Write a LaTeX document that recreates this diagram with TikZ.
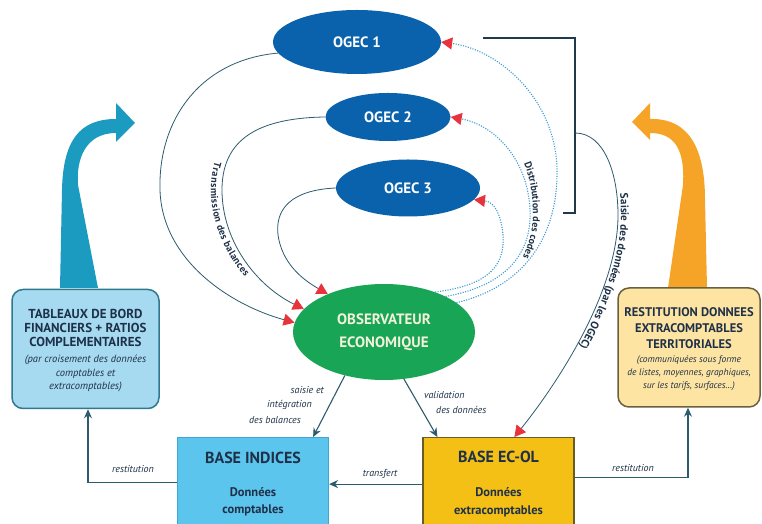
\documentclass[tikz,border=0pt]{standalone}
\usepackage{fontspec}
\setmainfont{PT Sans}
\usetikzlibrary{arrows.meta,decorations.text,shapes.geometric}
\definecolor{ogecblue}{HTML}{0A62AC}
\definecolor{obsgreen}{HTML}{18A555}
\definecolor{obstext}{HTML}{F4F2DC}
\definecolor{navy}{HTML}{1E3148}
\definecolor{indfill}{HTML}{5CC5EE}
\definecolor{inddraw}{HTML}{3FA6D2}
\definecolor{ecfill}{HTML}{F5C015}
\definecolor{ecdraw}{HTML}{6A5A28}
\definecolor{tabfill}{HTML}{A6DAF1}
\definecolor{tabdraw}{HTML}{2F7890}
\definecolor{resfill}{HTML}{FDE4A2}
\definecolor{resdraw}{HTML}{6A6040}
\definecolor{tealarrow}{HTML}{1C9BC0}
\definecolor{orangearrow}{HTML}{F5A428}
\definecolor{linedark}{HTML}{2D5B6E}
\definecolor{dotblue}{HTML}{3D9BD3}
\definecolor{arrowred}{HTML}{E8333D}
\definecolor{brackcol}{HTML}{1F3A48}
\begin{document}
\begin{tikzpicture}[x=1pt,y=1pt,
  every node/.style={text=navy},
  ogec/.style={ellipse, fill=ogecblue, text=white, font=\fontsize{15}{18}\selectfont\bfseries, inner sep=0pt},
  basebox/.style={rectangle, line width=1.2pt, minimum width=151pt, minimum height=93pt, anchor=north, inner sep=0pt},
  sidebox/.style={rectangle, rounded corners=11pt, line width=1.5pt, minimum height=119pt, inner sep=0pt},
  boxtext/.style={inner sep=0pt},
  conn/.style={draw=linedark, line width=1.1pt, -{Stealth[length=9pt,width=8pt]}},
  balance/.style={draw=linedark, line width=0.8pt, -{Triangle[length=11pt,width=12pt,color=arrowred]}},
  codeline/.style={draw=dotblue, line width=1.1pt, dash pattern=on 1.1pt off 1.4pt, -{Triangle[length=11pt,width=12pt,color=arrowred]}},
  lbl/.style={font=\fontsize{10}{12}\selectfont\itshape, inner sep=1pt},
  bracket/.style={draw=brackcol, line width=1.5pt}
]
\useasboundingbox (0,0) rectangle (762,524);
\clip (0,0) rectangle (762,524);
\fill[white] (0,0) rectangle (762,524);

% big decorative arrows
\fill[tealarrow] (60,236) -- (62,334) .. controls (63,384) and (80,405) .. (116,405) -- (116,421) -- (135,401) -- (116,382) -- (116,391) .. controls (85,391) and (76,364) .. (78,339) -- (98,236) -- cycle;
\fill[orangearrow] (668,236) -- (683,339) .. controls (685,374) and (675,391) .. (650,391) -- (650,384) -- (632,402) -- (650,421) -- (650,405) .. controls (690,406) and (705,374) .. (705,324) -- (707,236) -- cycle;

% nodes
\node[ogec, minimum width=168pt, minimum height=64pt] (ogec1) at (357,482) {OGEC 1};
\node[ogec, minimum width=125pt, minimum height=48pt] (ogec2) at (388,407) {OGEC 2};
\node[ogec, minimum width=144pt, minimum height=57pt] (ogec3) at (408,336) {OGEC 3};
\node[ellipse, fill=obsgreen, text=obstext, minimum width=182pt, minimum height=96pt, inner sep=0pt, align=center, font=\fontsize{15}{23}\selectfont\bfseries] (obs) at (384,192) {OBSERVATEUR\\ECONOMIQUE};

\node[basebox, draw=inddraw, fill=indfill] (baseind) at (253,87) {};
\node[boxtext] (baseindtxt) at (253,40) {\begin{minipage}{170pt}\centering\bfseries
\fontsize{16}{18}\selectfont BASE INDICES\par\vspace{16pt}
\fontsize{12.5}{17}\selectfont Données\par comptables\par\end{minipage}};
\node[basebox, draw=ecdraw, fill=ecfill] (baseec) at (498.5,87) {};
\node[boxtext] (baseectxt) at (498.5,40) {\begin{minipage}{170pt}\centering\bfseries
\fontsize{16}{18}\selectfont BASE EC-OL\par\vspace{16pt}
\fontsize{12.5}{18}\selectfont Données\par extracomptables\par\end{minipage}};

\node[sidebox, draw=tabdraw, fill=tabfill, minimum width=147pt] (tab) at (85.5,175) {};
\node[boxtext] (tabtxt) at (85.5,173) {\begin{minipage}{170pt}\centering
\fontsize{13}{14}\selectfont\bfseries TABLEAUX DE BORD\par FINANCIERS + RATIOS\par COMPLEMENTAIRES\par\vspace{2.5pt}
\fontsize{10.5}{13.5}\selectfont\mdseries\itshape (par croisement des données\par comptables et\par extracomptables)\par\end{minipage}};
\node[sidebox, draw=resdraw, fill=resfill, minimum width=142pt] (restit) at (689,176.5) {};
\node[boxtext] (restittxt) at (689,175) {\begin{minipage}{170pt}\centering
\fontsize{12.5}{16}\selectfont\bfseries RESTITUTION DONNEES\par EXTRACOMPTABLES\par TERRITORIALES\par\vspace{1pt}
\fontsize{9.5}{13}\selectfont\mdseries\itshape (communiquées sous forme\par de listes, moyennes, graphiques,\par sur les tarifs, surfaces…)\par\end{minipage}};

% bracket
\draw[bracket] (483,486) -- (575,486) -- (575,311) -- (563,311);
\coordinate (brk) at (575,391);

% transmission des balances
\draw[balance] (ogec1.188) .. controls (200,464) and (158,404) .. (160,334) .. controls (162,264) and (230,219) .. (obs.174);
\draw[balance] (ogec2.west) .. controls (250,406) and (222,379) .. (222,334) .. controls (222,284) and (255,239) .. (obs.164);
\draw[balance] (ogec3.west) .. controls (290,334) and (275,314) .. (278,289) .. controls (282,262) and (300,246) .. (obs.146);
\path[decorate, decoration={text along path, text color=navy, text align=center, raise=-11pt,
  text={|\fontsize{10}{12}\selectfont\bfseries|Transmission des balances}}]
  (235,378) .. controls (225,364) and (222,349) .. (222,334) .. controls (222,299) and (240,264) .. (268,239);

% distribution des codes
\draw[codeline] (obs.22) .. controls (530,239) and (558,294) .. (557,354) .. controls (556,424) and (500,474) .. (ogec1.east);
\draw[codeline] (obs.30) .. controls (510,239) and (532,274) .. (530,314) .. controls (528,364) and (495,399) .. (ogec2.east);
\draw[codeline] (obs.38) .. controls (490,239) and (505,259) .. (503,289) .. controls (501,309) and (495,322) .. (ogec3.-10);
\path[decorate, decoration={text along path, text color=navy, text align=center, raise=2pt,
  text={|\fontsize{10}{12}\selectfont\bfseries|Distribution des codes}}]
  (490,396) .. controls (515,384) and (530,354) .. (531,314) .. controls (532,279) and (515,249) .. (490,229);

% saisie des donnees par les OGEC
\draw[balance] (brk) .. controls (605,391) and (618,349) .. (618,309) .. controls (618,234) and (560,144) .. ([xshift=92pt]baseec.north west);
\path[decorate, decoration={text along path, text color=navy, text align=left, raise=3pt,
  text={|\fontsize{11}{13}\selectfont\bfseries|Saisie des données (par les OGEC)}}]
  (617,330) .. controls (618,322) and (618,315) .. (618,309) .. controls (618,234) and (560,144) .. (515,87);

% straight connectors
\draw[conn] (obs.228) -- ([xshift=-16pt]baseind.north east);
\draw[conn] (obs.293) -- ([xshift=15pt]baseec.north west);
\draw[conn] (baseec.west) -- (baseind.east);
\draw[conn] ([yshift=1.5pt]baseind.west) -| ([xshift=2.5pt]tab.south);
\draw[conn] ([yshift=6.5pt]baseec.east) -| ([xshift=-1pt]restit.south);

% labels
\node[lbl, anchor=east] (l1) at (325,134) {saisie et};
\node[lbl, anchor=east] (l2) at (313,119) {intégration};
\node[lbl, anchor=east] (l3) at (302,104) {des balances};
\node[lbl, anchor=west] (l4) at (423,129) {validation};
\node[lbl, anchor=west] (l5) at (435,114) {des données};
\node[lbl] (l6) at (380,50) {transfert};
\node[lbl] (l7) at (133,55) {restitution};
\node[lbl] (l8) at (633,56) {restitution};
\end{tikzpicture}
\end{document}
